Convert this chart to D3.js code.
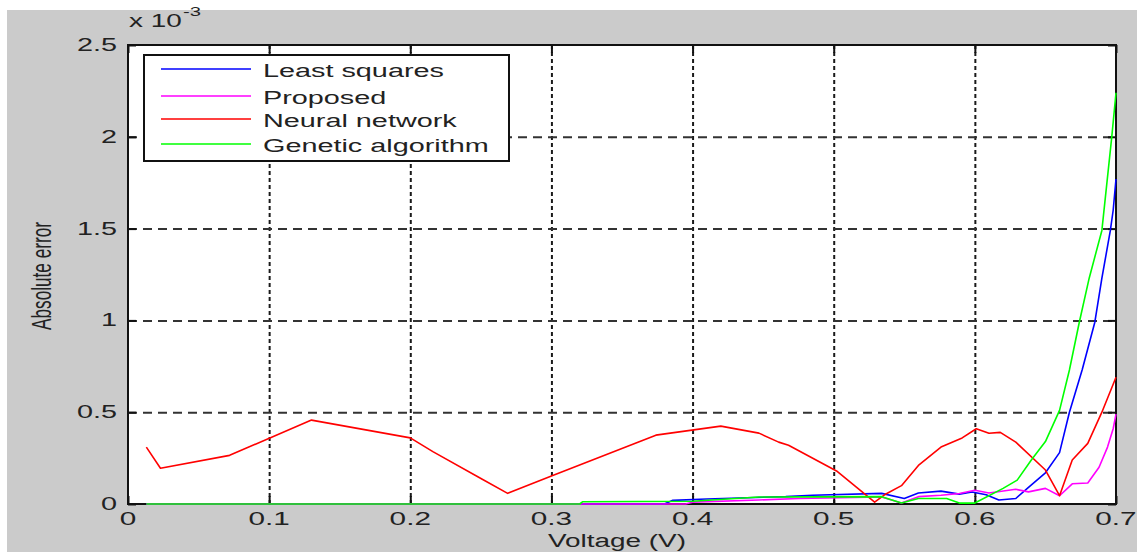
<!DOCTYPE html>
<html>
<head>
<meta charset="utf-8">
<script src="https://cdn.jsdelivr.net/npm/d3@7"></script>
<style>
  html, body { margin: 0; padding: 0; background: #ffffff; }
  svg { display: block; }
</style>
</head>
<body>
<div id="chart"></div>
<script>
// Series data (errors in units of 1e-3)
const lsV = [0.013, 0.38, 0.386, 0.41, 0.433, 0.466, 0.485, 0.534, 0.55, 0.56, 0.576, 0.589, 0.598, 0.608, 0.617, 0.629, 0.638, 0.65, 0.66, 0.667, 0.676, 0.685, 0.69, 0.696, 0.698, 0.7];
const lsE = [0, 0, 0.02, 0.027, 0.033, 0.04, 0.048, 0.058, 0.03, 0.06, 0.07, 0.054, 0.065, 0.05, 0.022, 0.03, 0.09, 0.17, 0.28, 0.5, 0.73, 0.99, 1.23, 1.49, 1.6, 1.77];

const prV = [0.013, 0.395, 0.4, 0.447, 0.475, 0.534, 0.548, 0.56, 0.576, 0.589, 0.6, 0.61, 0.629, 0.638, 0.65, 0.66, 0.669, 0.68, 0.688, 0.694, 0.698, 0.7];
const prE = [0, 0, 0.01, 0.022, 0.03, 0.038, 0.005, 0.04, 0.048, 0.057, 0.075, 0.06, 0.08, 0.066, 0.085, 0.045, 0.11, 0.114, 0.2, 0.31, 0.41, 0.49];

const nnV = [0.013, 0.023, 0.072, 0.13, 0.2, 0.216, 0.251, 0.269, 0.3, 0.374, 0.42, 0.447, 0.461, 0.468, 0.502, 0.529, 0.536, 0.548, 0.56, 0.576, 0.591, 0.601, 0.61, 0.618, 0.629, 0.65, 0.66, 0.669, 0.68, 0.69, 0.7];
const nnE = [0.31, 0.195, 0.265, 0.457, 0.36, 0.285, 0.135, 0.058, 0.152, 0.375, 0.424, 0.386, 0.337, 0.32, 0.18, 0.01, 0.05, 0.10, 0.21, 0.31, 0.36, 0.41, 0.385, 0.39, 0.337, 0.185, 0.045, 0.24, 0.33, 0.50, 0.69];

const gaV = [0.013, 0.32, 0.322, 0.4, 0.447, 0.534, 0.548, 0.56, 0.58, 0.589, 0.6, 0.62, 0.63, 0.64, 0.65, 0.66, 0.667, 0.674, 0.681, 0.69, 0.697, 0.7];
const gaE = [0, 0, 0.012, 0.015, 0.038, 0.04, 0.005, 0.03, 0.03, 0.005, 0.005, 0.085, 0.13, 0.24, 0.34, 0.51, 0.73, 0.99, 1.23, 1.49, 2.0, 2.24];

const seriesNames = ["Least squares", "Proposed", "Neural network", "Genetic algorithm"];
const seriesColors = ["#0000ff", "#ff00ff", "#ff0000", "#00ff00"];

const xTicks = [0, 0.1, 0.2, 0.3, 0.4, 0.5, 0.6, 0.7];
const yTicks = [0, 0.5, 1, 1.5, 2, 2.5];

// Layout
const width = 1137, height = 553;
const margin = { top: 45, right: 21, bottom: 49, left: 128 };
const innerWidth = width - margin.left - margin.right;
const innerHeight = height - margin.top - margin.bottom;
const FONT = "'Liberation Sans', Arial, sans-serif";

// stretch text horizontally, like the wide matlab screen font
function stretch(sel, f) {
    sel.each(function () {
        const w = this.getComputedTextLength();
        this.setAttribute("textLength", w * f);
        this.setAttribute("lengthAdjust", "spacingAndGlyphs");
    });
}

const root = d3.select("#chart").append("svg")
    .attr("width", width)
    .attr("height", height);

// gray figure background
root.append("rect")
    .attr("x", 7).attr("y", 10)
    .attr("width", width - 7).attr("height", height - 11)
    .attr("fill", "#cbcbcb");

const svg = root.append("g")
    .attr("transform", `translate(${margin.left},${margin.top})`);

const x = d3.scaleLinear().domain([0, 0.7]).range([0, innerWidth]);
const y = d3.scaleLinear().domain([0, 2.5]).range([innerHeight, 0]);

// plot area
svg.append("rect")
    .attr("width", innerWidth).attr("height", innerHeight)
    .attr("fill", "#ffffff");

// grid lines
svg.append("g")
    .attr("transform", `translate(0,${innerHeight})`)
    .call(d3.axisBottom(x).tickValues(xTicks.slice(1, -1)).tickSize(-innerHeight).tickFormat(""))
    .call(g => g.select(".domain").remove())
    .call(g => g.selectAll("line")
        .attr("stroke", "#1a1a1a")
        .attr("stroke-width", 2)
        .attr("stroke-dasharray", "4,3"));

svg.append("g")
    .call(d3.axisLeft(y).tickValues(yTicks.slice(1, -1)).tickSize(-innerWidth).tickFormat(""))
    .call(g => g.select(".domain").remove())
    .call(g => g.selectAll("line")
        .attr("stroke", "#333333")
        .attr("stroke-width", 2)
        .attr("stroke-dasharray", "9,6"));

// ticks inward on all four sides
const tickLen = 8;
svg.append("g")
    .attr("transform", `translate(0,${innerHeight})`)
    .call(d3.axisBottom(x).tickValues(xTicks).tickSize(-tickLen).tickFormat(""))
    .call(g => g.select(".domain").remove());
svg.append("g")
    .call(d3.axisTop(x).tickValues(xTicks).tickSize(-tickLen).tickFormat(""))
    .call(g => g.select(".domain").remove());
svg.append("g")
    .call(d3.axisLeft(y).tickValues(yTicks).tickSize(-tickLen).tickFormat(""))
    .call(g => g.select(".domain").remove());
svg.append("g")
    .attr("transform", `translate(${innerWidth},0)`)
    .call(d3.axisRight(y).tickValues(yTicks).tickSize(-tickLen).tickFormat(""))
    .call(g => g.select(".domain").remove());
svg.selectAll(".tick line").filter(function () { return !this.getAttribute("stroke-dasharray"); })
    .attr("stroke", "#111111").attr("stroke-width", 2);

// axes box
svg.append("rect")
    .attr("width", innerWidth).attr("height", innerHeight)
    .attr("fill", "none")
    .attr("stroke", "#111111")
    .attr("stroke-width", 2);

// tick labels
const xl = svg.append("g").selectAll("text")
    .data(xTicks).join("text")
    .attr("x", d => x(d))
    .attr("y", innerHeight + 21)
    .attr("text-anchor", "middle")
    .style("font-family", FONT).style("font-size", "18px")
    .attr("fill", "#222222")
    .text(d => d3.format("")(d));
stretch(xl, 1.65);

const yl = svg.append("g").selectAll("text")
    .data(yTicks).join("text")
    .attr("x", -11)
    .attr("y", d => y(d) + 6)
    .attr("text-anchor", "end")
    .style("font-family", FONT).style("font-size", "18px")
    .attr("fill", "#222222")
    .text(d => d3.format("")(d));
stretch(yl, 1.6);

// exponent label
const expo = svg.append("text")
    .attr("x", 1).attr("y", -18)
    .style("font-family", FONT).style("font-size", "18px")
    .attr("fill", "#222222")
    .text("x 10");
stretch(expo, 1.55);
svg.append("text")
    .attr("x", 55).attr("y", -29)
    .style("font-family", FONT).style("font-size", "13px")
    .attr("fill", "#222222")
    .attr("textLength", 18).attr("lengthAdjust", "spacingAndGlyphs")
    .text("-3");

// axis titles
const xt = svg.append("text")
    .attr("x", 617 - margin.left)
    .attr("y", 547 - margin.top)
    .attr("text-anchor", "middle")
    .style("font-family", FONT).style("font-size", "18px")
    .attr("fill", "#222222")
    .text("Voltage (V)");
stretch(xt, 1.55);

svg.append("text")
    .attr("transform", `translate(${51 - margin.left},${276 - margin.top}) rotate(-90)`)
    .attr("text-anchor", "middle")
    .style("font-family", FONT).style("font-size", "27px")
    .attr("fill", "#222222")
    .attr("textLength", 108).attr("lengthAdjust", "spacingAndGlyphs")
    .text("Absolute error");

// curves
const line = d3.line().x(d => x(d[0])).y(d => y(d[1]));
const series = [
    d3.zip(lsV, lsE),
    d3.zip(prV, prE),
    d3.zip(nnV, nnE),
    d3.zip(gaV, gaE)
];
svg.append("g").selectAll("path")
    .data(series).join("path")
    .attr("d", line)
    .attr("fill", "none")
    .attr("stroke", (d, i) => seriesColors[i])
    .attr("stroke-width", 1.6)
    .attr("stroke-linejoin", "round");

// legend
const lg = svg.append("g").attr("transform", `translate(${144 - margin.left},${55 - margin.top})`);
lg.append("rect")
    .attr("width", 365).attr("height", 106)
    .attr("fill", "#ffffff")
    .attr("stroke", "#111111")
    .attr("stroke-width", 2);
const rows = [14, 41, 64, 89];
seriesNames.forEach((name, i) => {
    lg.append("line")
        .attr("x1", 17).attr("x2", 107)
        .attr("y1", rows[i]).attr("y2", rows[i])
        .attr("stroke", seriesColors[i])
        .attr("stroke-width", 1.6);
    const t = lg.append("text")
        .attr("x", 119).attr("y", rows[i] + 8)
        .style("font-family", FONT).style("font-size", "18px")
        .attr("fill", "#222222")
        .text(name);
    stretch(t, 1.6);
});
</script>
</body>
</html>
